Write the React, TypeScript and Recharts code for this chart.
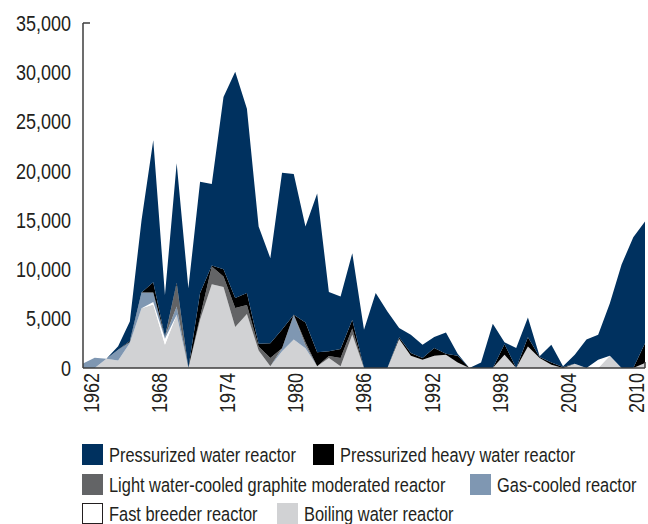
import React from 'react';
import { AreaChart, Area, XAxis, YAxis } from 'recharts';

const YEARS = [
  '1962', '1963', '1964', '1965', '1966', '1967', '1968', '1969', '1970', '1971',
  '1972', '1973', '1974', '1975', '1976', '1977', '1978', '1979', '1980', '1981',
  '1982', '1983', '1984', '1985', '1986', '1987', '1988', '1989', '1990', '1991',
  '1992', '1993', '1994', '1995', '1996', '1997', '1998', '1999', '2000', '2001',
  '2002', '2003', '2004', '2005', '2006', '2007', '2008', '2009', '2010',
];

const BWR = [
  0, 0, 950, 760, 2530, 6070, 6450, 2360, 5400, 0,
  4900, 8500, 8230, 4170, 5480, 1770, 170, 1700, 2900, 2000,
  170, 1010, 170, 3400, 0, 0, 0, 2930, 1250, 840,
  1250, 1350, 570, 0, 0, 0, 1350, 0, 2190, 1010,
  330, 0, 440, 0, 0, 1250, 0, 0, 500,
];
const FBR = [
  0, 0, 0, 0, 0, 0, 250, 600, 0, 0,
  0, 0, 0, 0, 0, 0, 0, 0, 0, 0,
  0, 0, 0, 0, 0, 0, 0, 0, 0, 0,
  0, 0, 0, 0, 0, 0, 0, 0, 0, 0,
  0, 0, 0, 0, 840, 0, 0, 0, 0,
];
const GAS = [
  450, 1050, 0, 1100, 100, 1580, 950, 200, 850, 0,
  0, 0, 0, 0, 0, 0, 0, 300, 2500, 300,
  0, 0, 0, 0, 0, 0, 0, 0, 0, 0,
  0, 0, 0, 0, 0, 0, 0, 0, 0, 0,
  0, 0, 0, 0, 0, 0, 0, 0, 0,
];
const LWGR = [
  0, 0, 0, 0, 0, 0, 0, 0, 2190, 0,
  300, 1800, 1050, 1910, 920, 400, 840, 0, 0, 300,
  0, 200, 840, 600, 0, 0, 0, 0, 0, 0,
  0, 0, 0, 0, 0, 0, 0, 0, 0, 0,
  0, 0, 0, 0, 0, 0, 0, 0, 0,
];
const PHWR = [
  0, 0, 0, 0, 100, 0, 1050, 0, 200, 0,
  2400, 100, 750, 1010, 1200, 290, 1500, 1900, 0, 2020,
  1420, 480, 930, 900, 0, 0, 0, 200, 260, 170,
  770, 100, 680, 0, 0, 0, 1070, 0, 940, 100,
  240, 100, 0, 0, 0, 0, 0, 0, 2000,
];
const PWR = [
  0, 0, 0, 340, 1990, 7350, 14400, 4240, 12120, 8100,
  11300, 8270, 17470, 22960, 18700, 11890, 8630, 15900, 14280, 9730,
  16110, 6010, 5320, 6750, 3880, 7600, 5740, 920, 1870, 1350,
  1120, 2160, 200, 0, 570, 4490, 180, 2030, 1990, 70,
  1790, 70, 910, 2900, 2530, 5330, 10500, 13270, 12350,
];

const Y_TICKS = [0, 5000, 10000, 15000, 20000, 25000, 30000, 35000];

const SERIES = [
  { key: 'pwr', name: 'Pressurized water reactor', color: '#00315f', values: PWR },
  { key: 'phwr', name: 'Pressurized heavy water reactor', color: '#000000', values: PHWR },
  { key: 'lwgr', name: 'Light water-cooled graphite moderated reactor', color: '#636466', values: LWGR },
  { key: 'gas', name: 'Gas-cooled reactor', color: '#7f97b2', values: GAS },
  { key: 'fbr', name: 'Fast breeder reactor', color: '#ffffff', values: FBR },
  { key: 'bwr', name: 'Boiling water reactor', color: '#d1d2d4', values: BWR },
];

const data = YEARS.map((year, i) => {
  const row: Record<string, string | number> = { year };
  SERIES.forEach((s) => {
    row[s.key] = s.values[i];
  });
  return row;
});

const FONT = "'Liberation Sans', Arial, sans-serif";
const SQUEEZE = 0.8;
const TEXT = '#231f20';
const AXIS = '#3c3c3c';

const fmt = (v: number) => v.toLocaleString('en-US');

const YTick = (props: any) => {
  const { x, y, payload } = props;
  const isTop = payload.value === 35000;
  return (
    <g>
      <text
        x={0}
        y={0}
        transform={`translate(${x} ${y}) scale(${SQUEEZE} 1)`}
        textAnchor="end"
        dominantBaseline="central"
        fontFamily={FONT}
        fontSize={22.5}
        fill={TEXT}
      >
        {fmt(payload.value)}
      </text>
      {isTop && <line x1={x + 12} x2={x + 19} y1={y} y2={y} stroke={AXIS} strokeWidth={1.5} />}
    </g>
  );
};

const XTick = (props: any) => {
  const { x, y, payload } = props;
  // labels sit slightly inside the point positions, as in the original category axis
  const lx = 91.5 + (x - 83) * 0.9689;
  const isLast = payload.value === '2010';
  return (
    <g>
      <text
        x={0}
        y={0}
        transform={`translate(${lx} ${y}) rotate(-90) scale(${SQUEEZE} 1)`}
        textAnchor="end"
        dominantBaseline="central"
        fontFamily={FONT}
        fontSize={22.5}
        fill={TEXT}
      >
        {payload.value}
      </text>
      {isLast && <line x1={x} x2={x} y1={y - 11} y2={y - 5} stroke={AXIS} strokeWidth={1.5} />}
    </g>
  );
};

// legend layout: rows of [series, left offset]
const ROWS: [typeof SERIES[number], number][][] = [
  [[SERIES[0], 0], [SERIES[1], 231]],
  [[SERIES[2], 0], [SERIES[3], 388]],
  [[SERIES[4], 0], [SERIES[5], 195]],
];

const Legend = () => (
  <div style={{ position: 'absolute', left: 82, top: 444, width: 566, fontFamily: FONT, fontSize: 20.5, color: TEXT }}>
    {ROWS.map((row, r) => (
      <div key={r} style={{ position: 'relative', height: 29.5, whiteSpace: 'nowrap' }}>
        {row.map(([s, left]) => (
          <div key={s.key} style={{ position: 'absolute', left, top: 0, height: 21, display: 'flex', alignItems: 'center' }}>
            <div
              style={{
                width: 21,
                height: 21,
                background: s.color,
                boxSizing: 'border-box',
                border: s.key === 'fbr' ? '1px solid #231f20' : 'none',
                marginRight: 6,
                flex: '0 0 auto',
              }}
            />
            <span
              style={{
                display: 'inline-block',
                lineHeight: '21px',
                transform: `scaleX(${SQUEEZE})`,
                transformOrigin: 'left center',
              }}
            >
              {s.name}
            </span>
          </div>
        ))}
      </div>
    ))}
  </div>
);

export default function App() {
  const stackOrder = [...SERIES].reverse();
  return (
    <div style={{ position: 'absolute', left: 0, top: 0, width: 648, height: 524, background: '#fff', overflow: 'hidden' }}>
      <AreaChart width={648} height={430} data={data} margin={{ top: 23, right: 3, left: 0, bottom: 0 }}>
        <XAxis
          dataKey="year"
          type="category"
          interval={5}
          height={62}
          tickSize={0}
          tickMargin={5}
          tickLine={false}
          axisLine={{ stroke: AXIS, strokeWidth: 1.5 }}
          tick={<XTick />}
        />
        <YAxis
          width={83}
          domain={[0, 35000]}
          ticks={Y_TICKS}
          tickSize={0}
          tickMargin={12}
          tickLine={false}
          axisLine={{ stroke: AXIS, strokeWidth: 1.5 }}
          tick={<YTick />}
          interval={0}
        />
        {stackOrder.map((s) => (
          <Area
            key={s.key}
            type="linear"
            dataKey={s.key}
            name={s.name}
            stackId="1"
            stroke="none"
            fill={s.color}
            fillOpacity={1}
            isAnimationActive={false}
          />
        ))}
      </AreaChart>
      <Legend />
    </div>
  );
}
